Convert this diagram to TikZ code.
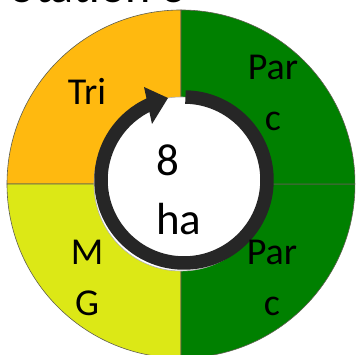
\documentclass[tikz,border=0pt]{standalone}
\usepackage{fontspec}
\setmainfont{Carlito}
\definecolor{triorange}{RGB}{255,185,15}
\definecolor{parcgreen}{RGB}{0,128,0}
\definecolor{mglime}{RGB}{220,232,22}
\definecolor{ringgray}{RGB}{38,38,38}
\definecolor{edgegray}{RGB}{95,95,80}
\tikzset{
  sector/.style={draw=edgegray, line width=0.6pt},
  lbl/.style={inner sep=0pt, text=black},
  bigfont/.style={font=\fontsize{38}{51}\selectfont},
}
\begin{document}
\begin{tikzpicture}[x=1pt,y=1pt]
\useasboundingbox (0,0) rectangle (355,355);
\clip (0,0) rectangle (355,355);
\coordinate (O) at (181,171);
\coordinate (R) at (184,175);
% sectors
\path[sector, fill=triorange] (O) -- ++(90:174) arc[start angle=90, end angle=180, radius=174] -- cycle;
\path[sector, fill=mglime] (O) -- ++(180:174) arc[start angle=180, end angle=270, radius=174] -- cycle;
\path[sector, fill=parcgreen] (O) -- ++(270:174) arc[start angle=270, end angle=360, radius=174] -- cycle;
\path[sector, fill=parcgreen] (O) -- ++(0:174) arc[start angle=0, end angle=90, radius=174] -- cycle;
% centre disc
\draw[fill=white, draw=gray!60, line width=0.6pt] (O) circle[radius=87];
% circular arrow
\draw[ringgray, line width=13.5pt] (R) ++(89:83) arc[start angle=89, end angle=-246, radius=83];
\fill[ringgray] (144,268) -- (168,257) -- (152,231) -- cycle;
% labels
\node[lbl, anchor=base east, font=\fontsize{48}{58}\selectfont] (title) at (186,352) {otation 3};
\node[lbl, anchor=base, bigfont] (tri) at (87,250) {Tri};
\node[lbl, anchor=base, bigfont] (parc1) at (273,275) {\begin{tabular}[t]{@{}c@{}}Par\\c\end{tabular}};
\node[lbl, anchor=base, bigfont] (parc2) at (272,90) {\begin{tabular}[t]{@{}c@{}}Par\\c\end{tabular}};
\node[lbl, anchor=base, bigfont] (mg) at (87,90) {\begin{tabular}[t]{@{}c@{}}M\\G\end{tabular}};
\node[lbl, anchor=base west, font=\fontsize{45}{59}\selectfont] (ha) at (156,179) {\begin{tabular}[t]{@{}l@{}}8\\ha\end{tabular}};
\end{tikzpicture}
\end{document}
